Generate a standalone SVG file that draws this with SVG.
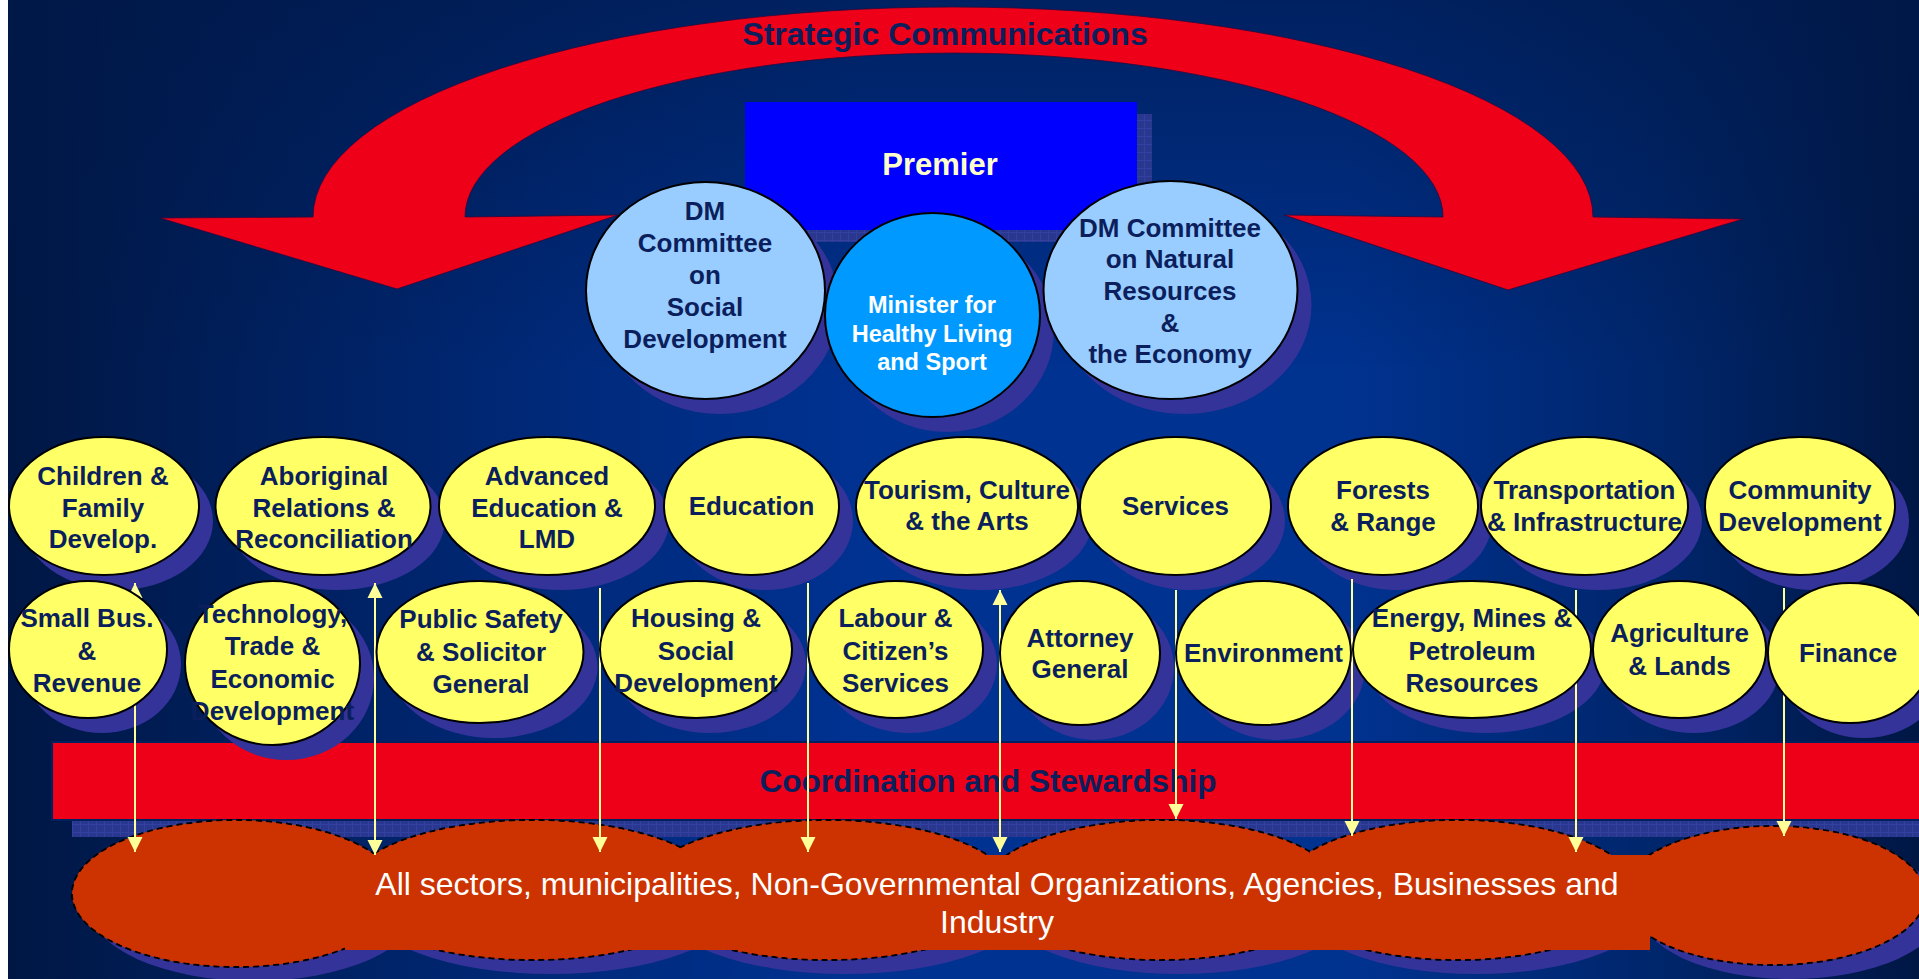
<svg xmlns="http://www.w3.org/2000/svg" width="1919" height="979" viewBox="0 0 1919 979">
<defs>
<linearGradient id="bgH" x1="0" y1="0" x2="1" y2="0">
<stop offset="0" stop-color="#001744"/>
<stop offset="0.3" stop-color="#002a7c"/>
<stop offset="0.45" stop-color="#003292"/>
<stop offset="0.7" stop-color="#003290"/>
<stop offset="0.86" stop-color="#00266c"/>
<stop offset="1" stop-color="#001744"/>
</linearGradient>
<linearGradient id="bgV" x1="0" y1="0" x2="0" y2="1">
<stop offset="0" stop-color="#001848" stop-opacity="0.65"/>
<stop offset="0.38" stop-color="#001848" stop-opacity="0"/>
<stop offset="1" stop-color="#001848" stop-opacity="0"/>
</linearGradient>
<pattern id="tex" width="8" height="8" patternUnits="userSpaceOnUse">
<rect width="8" height="8" fill="#29378f"/>
<path d="M0 0.5H8M0.5 0V8" stroke="#3241a0" stroke-width="1"/>
</pattern>
<marker id="ah" markerUnits="userSpaceOnUse" markerWidth="16" markerHeight="16" refX="15" refY="8" orient="auto-start-reverse">
<path d="M0 0.5 L15 8 L0 15.5 Z" fill="#FFFF99"/>
</marker>
<style>
.sh{fill:#333399}
.y{fill:#FFFF66;stroke:#000;stroke-width:2}
.t{font-family:"Liberation Sans",Arial,sans-serif;font-weight:bold;font-size:26px;fill:#0A1F5C;text-anchor:middle}
.conn{stroke:#FFFF99;stroke-width:2;fill:none;marker-end:url(#ah)}
.both{marker-start:url(#ah)}
.cl{fill:#CC3300}
.cld{fill:#CC3300;stroke:#000;stroke-width:2;stroke-dasharray:6 4}
.ct{font-family:"Liberation Sans",Arial,sans-serif;font-size:32px;fill:#FFFFFF;text-anchor:middle}
</style>
</defs>
<rect x="0" y="0" width="1919" height="979" fill="#FFFFFF"/>
<rect x="8" y="0" width="1911" height="979" fill="url(#bgH)"/>
<rect x="8" y="0" width="1911" height="979" fill="url(#bgV)"/>

<g id="strategic-communications">
<path d="M160,218 L313,217 A640,210 0 0 1 1593,217 L1743,219 L1508,290 L1284,215 L1443,217 A489,164 0 0 0 465,217 L618,215 L397,289 Z" fill="#EE0018" stroke="#2a0a40" stroke-width="0.8"/>
<text class="t" x="945" y="45" style="font-size:32px">Strategic Communications</text>
</g>

<g id="premier">
<rect x="760" y="114" width="392" height="128" fill="url(#tex)"/>
<rect x="745" y="102" width="392" height="128" fill="#0000FF"/>
<text class="t" x="940" y="175" style="font-size:31px;fill:#FFFFCC">Premier</text>
</g>

<g id="dm-social">
<ellipse class="sh" cx="719.5" cy="305.5" rx="119.5" ry="108.5"/>
<ellipse cx="705.5" cy="290.5" rx="119.5" ry="108.5" fill="#99CCFF" stroke="#000" stroke-width="2"/>
<text class="t" x="705" y="220">DM</text>
<text class="t" x="705" y="252">Committee</text>
<text class="t" x="705" y="284">on</text>
<text class="t" x="705" y="316">Social</text>
<text class="t" x="705" y="348">Development</text>
</g>
<g id="minister">
<ellipse class="sh" cx="946.5" cy="330" rx="107.5" ry="102"/>
<ellipse cx="932.5" cy="315" rx="107.5" ry="102" fill="#0099FF" stroke="#000" stroke-width="2"/>
<text class="t" x="932" y="313" style="font-size:23.5px;fill:#FFFFFF">Minister for</text>
<text class="t" x="932" y="342" style="font-size:23.5px;fill:#FFFFFF">Healthy Living</text>
<text class="t" x="932" y="370" style="font-size:23.5px;fill:#FFFFFF">and Sport</text>
</g>
<g id="dm-natural">
<ellipse class="sh" cx="1184.5" cy="305" rx="127" ry="109"/>
<ellipse cx="1170.5" cy="290" rx="127" ry="109" fill="#99CCFF" stroke="#000" stroke-width="2"/>
<text class="t" x="1170" y="237">DM Committee</text>
<text class="t" x="1170" y="268">on Natural</text>
<text class="t" x="1170" y="300">Resources</text>
<text class="t" x="1170" y="332">&amp;</text>
<text class="t" x="1170" y="363">the Economy</text>
</g>

<g id="coordination">
<rect x="72" y="759" width="1870" height="78" fill="url(#tex)"/>
<rect x="52" y="742" width="1880" height="78" fill="#EE0018" stroke="#00205f" stroke-width="2"/>
<text class="t" x="988" y="792" style="font-size:31.5px">Coordination and Stewardship</text>
</g>

<g id="sectors">
<g transform="translate(18,14)" class="sh">
<ellipse cx="236" cy="893.5" rx="164" ry="73.5"/>
<ellipse cx="533" cy="890" rx="186" ry="70"/>
<ellipse cx="827" cy="890" rx="185" ry="70"/>
<ellipse cx="1161" cy="890" rx="178" ry="70"/>
<ellipse cx="1458" cy="890" rx="177" ry="70"/>
<ellipse cx="1773" cy="895.5" rx="152" ry="69.5"/>
</g>
<ellipse class="cld" cx="236" cy="893.5" rx="164" ry="73.5"/>
<ellipse class="cld" cx="533" cy="890" rx="186" ry="70"/>
<ellipse class="cld" cx="827" cy="890" rx="185" ry="70"/>
<ellipse class="cld" cx="1161" cy="890" rx="178" ry="70"/>
<ellipse class="cld" cx="1458" cy="890" rx="177" ry="70"/>
<ellipse class="cld" cx="1773" cy="895.5" rx="152" ry="69.5"/>
<ellipse class="cl" cx="236" cy="893.5" rx="163" ry="72.5"/>
<ellipse class="cl" cx="533" cy="890" rx="185" ry="69"/>
<ellipse class="cl" cx="827" cy="890" rx="184" ry="69"/>
<ellipse class="cl" cx="1161" cy="890" rx="177" ry="69"/>
<ellipse class="cl" cx="1458" cy="890" rx="176" ry="69"/>
<ellipse class="cl" cx="1773" cy="895.5" rx="151" ry="68.5"/>
<rect class="cl" x="345" y="855" width="1305" height="95"/>
<text class="ct" x="997" y="895">All sectors, municipalities, Non-Governmental Organizations, Agencies, Businesses and</text>
<text class="ct" x="997" y="933">Industry</text>
</g>

<g id="shadows">
<ellipse class="sh" cx="118" cy="521" rx="95" ry="69"/>
<ellipse class="sh" cx="337" cy="521" rx="107.5" ry="69"/>
<ellipse class="sh" cx="561" cy="521" rx="108" ry="69"/>
<ellipse class="sh" cx="765.5" cy="521" rx="87.5" ry="69"/>
<ellipse class="sh" cx="981" cy="521" rx="111" ry="69"/>
<ellipse class="sh" cx="1189.5" cy="521" rx="95.5" ry="69"/>
<ellipse class="sh" cx="1397" cy="521" rx="95" ry="69"/>
<ellipse class="sh" cx="1598.5" cy="521" rx="103.5" ry="69"/>
<ellipse class="sh" cx="1814" cy="521" rx="95" ry="69"/>
<ellipse class="sh" cx="102" cy="664.5" rx="79" ry="68.5"/>
<ellipse class="sh" cx="286.5" cy="678" rx="87.5" ry="82"/>
<ellipse class="sh" cx="494" cy="667" rx="103.5" ry="71"/>
<ellipse class="sh" cx="710" cy="664.5" rx="96" ry="68.5"/>
<ellipse class="sh" cx="909.5" cy="664.5" rx="87.5" ry="68.5"/>
<ellipse class="sh" cx="1094" cy="668" rx="80" ry="72"/>
<ellipse class="sh" cx="1277.5" cy="668" rx="87.5" ry="72"/>
<ellipse class="sh" cx="1486" cy="664.5" rx="119" ry="68.5"/>
<ellipse class="sh" cx="1693.5" cy="664.5" rx="86.5" ry="68.5"/>
<ellipse class="sh" cx="1864" cy="668" rx="82" ry="70"/>
</g>

<g id="connectors">
<line class="conn both" x1="135" y1="583" x2="135" y2="852"/>
<line class="conn both" x1="375" y1="583" x2="375" y2="855"/>
<line class="conn" x1="600" y1="588" x2="600" y2="852"/>
<line class="conn" x1="808" y1="583" x2="808" y2="852"/>
<line class="conn both" x1="1000" y1="590" x2="1000" y2="852"/>
<line class="conn" x1="1176" y1="590" x2="1176" y2="819"/>
<line class="conn" x1="1352" y1="579" x2="1352" y2="836"/>
<line class="conn" x1="1576" y1="590" x2="1576" y2="852"/>
<line class="conn" x1="1784" y1="588" x2="1784" y2="836"/>
</g>

<g id="children-family">
<ellipse class="y" cx="104" cy="506" rx="95" ry="69"/>
<text class="t" x="103" y="485">Children &amp;</text>
<text class="t" x="103" y="517">Family</text>
<text class="t" x="103" y="548">Develop.</text>
</g>
<g id="aboriginal-relations">
<ellipse class="y" cx="323" cy="506" rx="107.5" ry="69"/>
<text class="t" x="324" y="485">Aboriginal</text>
<text class="t" x="324" y="517">Relations &amp;</text>
<text class="t" x="324" y="548">Reconciliation</text>
</g>
<g id="advanced-education">
<ellipse class="y" cx="547" cy="506" rx="108" ry="69"/>
<text class="t" x="547" y="485">Advanced</text>
<text class="t" x="547" y="517">Education &amp;</text>
<text class="t" x="547" y="548">LMD</text>
</g>
<g id="education">
<ellipse class="y" cx="751.5" cy="506" rx="87.5" ry="69"/>
<text class="t" x="751.5" y="515">Education</text>
</g>
<g id="tourism">
<ellipse class="y" cx="967" cy="506" rx="111" ry="69"/>
<text class="t" x="967" y="499">Tourism, Culture</text>
<text class="t" x="967" y="530">&amp; the Arts</text>
</g>
<g id="services">
<ellipse class="y" cx="1175.5" cy="506" rx="95.5" ry="69"/>
<text class="t" x="1175.5" y="515">Services</text>
</g>
<g id="forests">
<ellipse class="y" cx="1383" cy="506" rx="95" ry="69"/>
<text class="t" x="1383" y="499">Forests</text>
<text class="t" x="1383" y="531">&amp; Range</text>
</g>
<g id="transportation">
<ellipse class="y" cx="1584.5" cy="506" rx="103.5" ry="69"/>
<text class="t" x="1584.5" y="499">Transportation</text>
<text class="t" x="1584.5" y="531">&amp; Infrastructure</text>
</g>
<g id="community">
<ellipse class="y" cx="1800" cy="506" rx="95" ry="69"/>
<text class="t" x="1800" y="499">Community</text>
<text class="t" x="1800" y="531">Development</text>
</g>

<g id="small-business">
<ellipse class="y" cx="88" cy="649.5" rx="79" ry="68.5"/>
<text class="t" x="87" y="627">Small Bus.</text>
<text class="t" x="87" y="660">&amp;</text>
<text class="t" x="87" y="692">Revenue</text>
</g>
<g id="technology-trade">
<ellipse class="y" cx="272.5" cy="663" rx="87.5" ry="82"/>
<text class="t" x="272.5" y="623">Technology,</text>
<text class="t" x="272.5" y="655">Trade &amp;</text>
<text class="t" x="272.5" y="688">Economic</text>
<text class="t" x="272.5" y="720">Development</text>
</g>
<g id="public-safety">
<ellipse class="y" cx="480" cy="652" rx="103.5" ry="71"/>
<text class="t" x="481" y="628">Public Safety</text>
<text class="t" x="481" y="661">&amp; Solicitor</text>
<text class="t" x="481" y="693">General</text>
</g>
<g id="housing">
<ellipse class="y" cx="696" cy="649.5" rx="96" ry="68.5"/>
<text class="t" x="696" y="627">Housing &amp;</text>
<text class="t" x="696" y="660">Social</text>
<text class="t" x="696" y="692">Development</text>
</g>
<g id="labour">
<ellipse class="y" cx="895.5" cy="649.5" rx="87.5" ry="68.5"/>
<text class="t" x="895.5" y="627">Labour &amp;</text>
<text class="t" x="895.5" y="660">Citizen’s</text>
<text class="t" x="895.5" y="692">Services</text>
</g>
<g id="attorney-general">
<ellipse class="y" cx="1080" cy="653" rx="80" ry="72"/>
<text class="t" x="1080" y="647">Attorney</text>
<text class="t" x="1080" y="678">General</text>
</g>
<g id="environment">
<ellipse class="y" cx="1263.5" cy="653" rx="87.5" ry="72"/>
<text class="t" x="1263.5" y="662">Environment</text>
</g>
<g id="energy-mines">
<ellipse class="y" cx="1472" cy="649.5" rx="119" ry="68.5"/>
<text class="t" x="1472" y="627">Energy, Mines &amp;</text>
<text class="t" x="1472" y="660">Petroleum</text>
<text class="t" x="1472" y="692">Resources</text>
</g>
<g id="agriculture">
<ellipse class="y" cx="1679.5" cy="649.5" rx="86.5" ry="68.5"/>
<text class="t" x="1679.5" y="642">Agriculture</text>
<text class="t" x="1679.5" y="675">&amp; Lands</text>
</g>
<g id="finance">
<ellipse class="y" cx="1850" cy="653" rx="82" ry="70"/>
<text class="t" x="1848" y="662">Finance</text>
</g>
</svg>
